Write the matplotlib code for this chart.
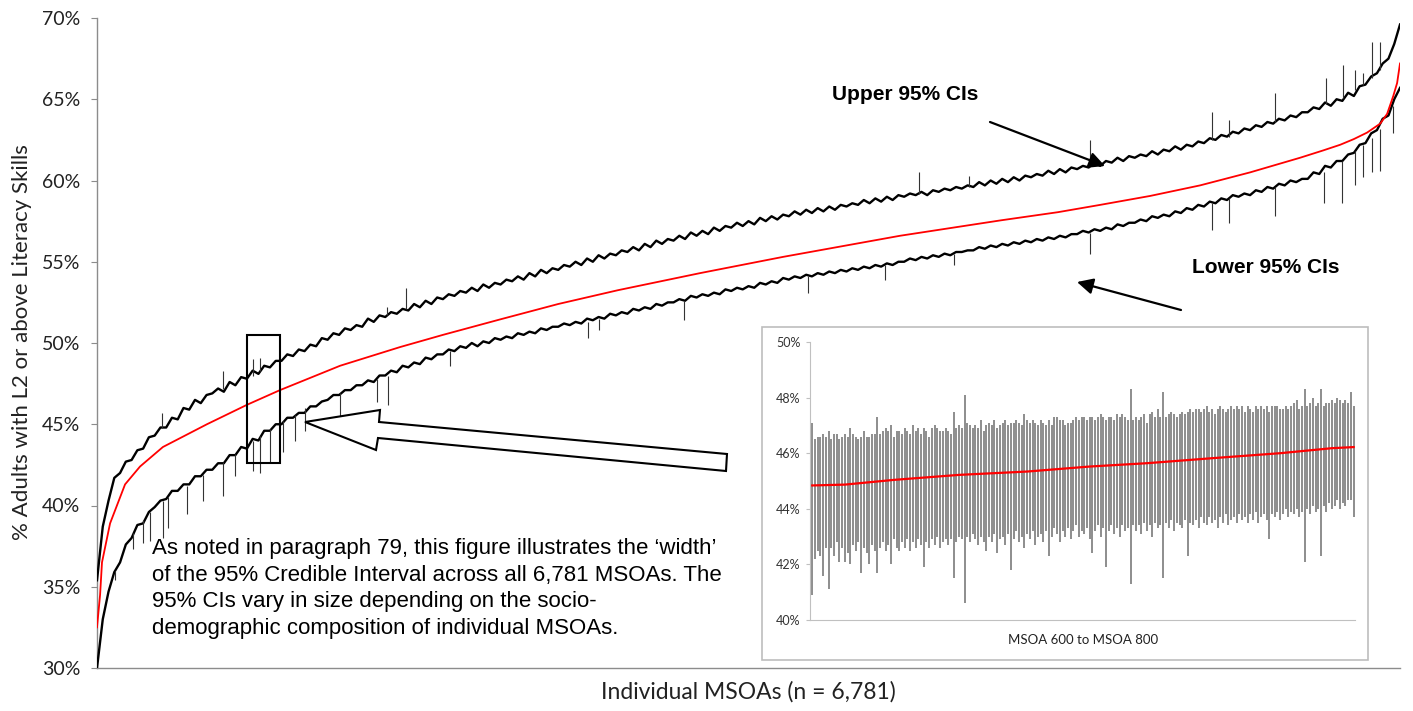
import numpy as np
import matplotlib
matplotlib.use("Agg")
import matplotlib.pyplot as plt
from matplotlib.patches import Rectangle, Polygon, FancyArrowPatch

# ------------------------------------------------------------
# Data
# ------------------------------------------------------------
# sampled MSOAs (rank order) for the CI lines, every 30th MSOA
ci_idx = np.arange(0, 6781, 30)

upper_ci = [
    35.4, 38.7, 40.3, 41.7, 42.0, 42.7, 42.8, 43.4, 43.5, 44.2,
    44.3, 44.8, 44.8, 45.4, 45.3, 46.0, 45.9, 46.5, 46.3, 46.8,
    46.9, 47.2, 47.0, 47.6, 47.4, 47.9, 47.8, 48.3, 48.1, 48.6,
    48.5, 48.9, 48.9, 49.3, 49.2, 49.6, 49.5, 49.9, 49.8, 50.3,
    50.2, 50.6, 50.5, 50.9, 50.8, 51.1, 51.0, 51.5, 51.3, 51.7,
    51.6, 51.9, 51.8, 52.1, 52.0, 52.4, 52.2, 52.6, 52.4, 52.8,
    52.7, 53.0, 52.9, 53.2, 53.1, 53.4, 53.2, 53.6, 53.4, 53.7,
    53.6, 53.9, 53.8, 54.1, 53.9, 54.3, 54.1, 54.5, 54.3, 54.6,
    54.5, 54.8, 54.7, 55.0, 54.8, 55.2, 55.0, 55.4, 55.2, 55.5,
    55.4, 55.7, 55.6, 55.9, 55.7, 56.1, 55.9, 56.3, 56.1, 56.4,
    56.3, 56.6, 56.4, 56.8, 56.6, 56.9, 56.7, 57.1, 56.9, 57.2,
    57.1, 57.4, 57.2, 57.5, 57.3, 57.7, 57.5, 57.8, 57.6, 57.9,
    57.8, 58.1, 57.9, 58.2, 58.0, 58.3, 58.1, 58.4, 58.2, 58.5,
    58.4, 58.6, 58.5, 58.8, 58.6, 58.9, 58.7, 59.0, 58.8, 59.1,
    59.0, 59.2, 59.1, 59.3, 59.1, 59.4, 59.3, 59.5, 59.4, 59.6,
    59.5, 59.7, 59.6, 59.9, 59.7, 60.0, 59.8, 60.1, 59.9, 60.2,
    60.0, 60.3, 60.2, 60.4, 60.3, 60.6, 60.4, 60.7, 60.5, 60.8,
    60.7, 60.9, 60.8, 61.1, 60.9, 61.2, 61.1, 61.4, 61.2, 61.5,
    61.4, 61.6, 61.5, 61.8, 61.6, 61.9, 61.8, 62.1, 61.9, 62.2,
    62.1, 62.4, 62.3, 62.6, 62.5, 62.8, 62.7, 63.0, 62.9, 63.2,
    63.1, 63.4, 63.3, 63.6, 63.5, 63.8, 63.7, 64.0, 63.9, 64.2,
    64.2, 64.5, 64.4, 64.8, 64.6, 65.0, 64.9, 65.4, 65.2, 65.8,
    65.9, 66.4, 66.6, 67.2, 67.5, 68.4, 69.6,
]

lower_ci = [
    30.0, 33.0, 34.7, 35.9, 36.5, 37.6, 38.0, 38.8, 38.9, 39.6,
    39.9, 40.3, 40.4, 40.9, 40.9, 41.3, 41.3, 41.8, 41.8, 42.2,
    42.2, 42.6, 42.6, 43.1, 43.1, 43.6, 43.5, 44.1, 44.0, 44.6,
    44.6, 45.0, 45.0, 45.4, 45.4, 45.7, 45.7, 46.1, 46.1, 46.4,
    46.5, 46.8, 46.8, 47.1, 47.1, 47.4, 47.4, 47.7, 47.6, 48.0,
    48.0, 48.3, 48.2, 48.6, 48.5, 48.8, 48.7, 49.1, 49.0, 49.3,
    49.3, 49.6, 49.5, 49.8, 49.7, 50.0, 49.8, 50.1, 50.0, 50.3,
    50.2, 50.4, 50.3, 50.6, 50.5, 50.7, 50.6, 50.9, 50.8, 51.0,
    51.0, 51.2, 51.1, 51.3, 51.2, 51.5, 51.4, 51.6, 51.5, 51.8,
    51.7, 51.9, 51.8, 52.1, 52.0, 52.2, 52.1, 52.4, 52.3, 52.5,
    52.5, 52.7, 52.6, 52.9, 52.8, 53.0, 52.9, 53.1, 53.0, 53.3,
    53.2, 53.4, 53.3, 53.5, 53.4, 53.7, 53.6, 53.8, 53.7, 54.0,
    53.9, 54.1, 54.0, 54.2, 54.1, 54.3, 54.2, 54.4, 54.3, 54.5,
    54.4, 54.6, 54.5, 54.7, 54.6, 54.8, 54.7, 54.9, 54.8, 55.0,
    55.0, 55.2, 55.1, 55.3, 55.2, 55.4, 55.3, 55.5, 55.4, 55.6,
    55.6, 55.7, 55.7, 55.9, 55.8, 56.0, 55.9, 56.1, 56.0, 56.2,
    56.1, 56.3, 56.2, 56.4, 56.3, 56.5, 56.4, 56.6, 56.5, 56.7,
    56.7, 56.9, 56.8, 57.0, 56.9, 57.1, 57.0, 57.3, 57.2, 57.4,
    57.4, 57.6, 57.5, 57.8, 57.7, 57.9, 57.8, 58.1, 58.0, 58.3,
    58.2, 58.5, 58.4, 58.7, 58.6, 58.9, 58.8, 59.1, 59.0, 59.2,
    59.1, 59.4, 59.3, 59.6, 59.5, 59.8, 59.7, 60.0, 59.9, 60.1,
    60.1, 60.5, 60.4, 60.9, 60.8, 61.2, 61.2, 61.6, 61.7, 62.2,
    62.3, 62.9, 63.1, 63.8, 64.0, 65.0, 65.7,
]

# point estimate (red line)
est_idx = [0, 16, 26, 68, 146, 224, 343, 572, 781, 952, 1265, 1577, 1800,
           2097, 2400, 2711, 3138, 3570, 4179, 4704, 5000, 5220, 5480, 5740,
           6000, 6260, 6380, 6469, 6540, 6609, 6677, 6713, 6745, 6765, 6780]
est_val = [32.5, 34.5, 36.5, 38.9, 41.3, 42.4, 43.6, 45.0, 46.2, 47.1, 48.6,
           49.75, 50.5, 51.45, 52.4, 53.25, 54.3, 55.3, 56.6, 57.55, 58.05,
           58.5, 59.05, 59.7, 60.5, 61.4, 61.85, 62.2, 62.55, 62.95, 63.5,
           64.1, 65.2, 66.0, 67.2]

# single MSOAs with unusually wide intervals (needles)
up_spike_idx = [337, 656, 812, 848, 1509, 1606, 4278, 4538, 5168, 5801, 5891,
                6127, 6396, 6483, 6547, 6587, 6634, 6677]
up_spike_from = [44.8, 47.2, 48.0, 48.3, 51.7, 52.1, 59.2, 59.6, 60.9, 62.5,
                 62.7, 63.6, 64.7, 65.1, 65.6, 65.9, 66.3, 66.8]
up_spike_to = [45.7, 48.3, 49.0, 49.1, 52.2, 53.4, 60.5, 60.3, 62.5, 64.2,
               63.7, 65.4, 66.3, 67.1, 66.8, 66.6, 68.5, 68.5]

lo_spike_idx = [94, 187, 239, 276, 343, 369, 468, 552, 656, 718, 812, 848, 900,
                968, 1030, 1082, 1265, 1457, 1514, 1837, 2555, 2612, 3052, 3700,
                4099, 4458, 5168, 5801, 5891, 6127, 6382, 6477, 6547, 6590,
                6634, 6677, 6745]
lo_spike_from = [36.0, 38.3, 39.1, 39.6, 40.3, 40.5, 41.2, 41.9, 42.7, 43.2,
                 44.0, 44.3, 44.7, 45.2, 45.6, 46.0, 46.9, 47.8, 48.0, 49.5,
                 51.3, 51.5, 52.6, 54.1, 54.8, 55.5, 56.8, 58.6, 58.9, 59.6,
                 60.5, 61.2, 61.8, 62.2, 62.6, 63.2, 64.6]
lo_spike_to = [35.4, 37.3, 37.7, 37.8, 38.0, 38.6, 39.5, 40.3, 40.6, 41.8,
               42.1, 42.0, 42.6, 43.3, 44.0, 44.6, 45.5, 46.4, 46.2, 48.6,
               50.3, 50.8, 51.4, 53.1, 53.9, 54.8, 55.5, 56.95, 57.4, 57.8,
               58.6, 58.6, 59.7, 60.2, 60.5, 60.6, 62.9]

# inset: MSOA 600 to MSOA 800
inset_bar_idx = np.arange(200)
inset_upper = [
    47.1, 46.5, 46.6, 46.6, 46.7, 46.6, 46.8, 46.5, 46.7, 46.7, 46.5, 46.6, 46.7, 46.6, 46.9, 46.7, 46.6, 46.5, 46.6, 46.8,
    46.6, 46.6, 46.7, 46.7, 47.3, 46.7, 46.8, 46.9, 46.8, 47.0, 46.6, 46.8, 46.8, 46.7, 46.9, 46.8, 46.7, 47.0, 46.8, 46.9,
    46.7, 46.9, 46.8, 46.6, 46.9, 47.0, 46.9, 46.8, 46.8, 46.9, 46.8, 46.7, 47.5, 46.9, 47.0, 46.9, 48.1, 47.1, 47.0, 46.9,
    47.0, 46.9, 47.2, 46.8, 47.0, 47.1, 47.0, 47.2, 46.9, 47.0, 47.1, 47.2, 47.0, 47.1, 47.1, 47.2, 47.1, 47.0, 47.4, 47.2,
    47.1, 47.2, 47.1, 47.0, 47.2, 47.1, 47.0, 47.2, 47.0, 47.3, 47.3, 47.2, 47.2, 47.0, 47.1, 47.1, 47.2, 47.3, 47.2, 47.3,
    47.3, 47.2, 47.3, 47.3, 47.2, 47.3, 47.4, 47.3, 47.2, 47.3, 47.3, 47.2, 47.4, 47.3, 47.4, 47.3, 47.2, 48.3, 47.2, 47.3,
    47.2, 47.3, 47.4, 47.1, 47.4, 47.5, 47.3, 47.6, 47.3, 48.2, 47.3, 47.4, 47.5, 47.4, 47.3, 47.4, 47.5, 47.4, 47.5, 47.6,
    47.5, 47.6, 47.6, 47.5, 47.6, 47.7, 47.5, 47.6, 47.4, 47.6, 47.7, 47.6, 47.5, 47.6, 47.7, 47.6, 47.7, 47.6, 47.7, 47.5,
    47.7, 47.6, 47.5, 47.7, 47.6, 47.7, 47.6, 47.7, 47.5, 47.7, 47.7, 47.7, 47.6, 47.6, 47.7, 47.6, 47.7, 47.8, 47.9, 47.6,
    47.7, 48.3, 47.7, 47.8, 48.0, 47.7, 47.8, 48.3, 47.7, 47.8, 47.8, 47.9, 47.8, 48.0, 47.9, 47.8, 47.9, 47.8, 48.2, 47.7,
]
inset_lower = [
    40.9, 42.2, 42.5, 42.3, 41.6, 42.6, 41.1, 42.6, 42.3, 42.8, 42.1, 42.6, 42.1, 42.4, 42.0, 42.7, 42.5, 42.8, 41.7, 42.6,
    42.4, 42.0, 42.7, 42.5, 41.7, 42.6, 42.8, 42.5, 42.7, 42.0, 42.9, 42.6, 42.5, 42.8, 42.6, 42.9, 42.5, 42.8, 42.6, 42.9,
    42.7, 41.9, 42.8, 42.6, 42.9, 42.7, 43.0, 42.6, 42.8, 42.9, 42.7, 42.9, 41.5, 42.8, 43.0, 42.9, 40.6, 43.0, 42.8, 43.1,
    42.9, 42.7, 43.0, 42.8, 42.5, 43.0, 42.8, 43.1, 42.4, 42.9, 43.0, 42.7, 43.1, 41.8, 42.9, 43.2, 42.8, 43.0, 42.6, 43.1,
    42.9, 43.2, 42.7, 43.0, 43.1, 42.8, 43.2, 42.3, 43.0, 43.3, 43.1, 42.8, 43.2, 43.0, 43.3, 42.9, 43.2, 43.4, 43.0, 43.2,
    43.1, 43.3, 42.9, 42.4, 43.2, 43.4, 43.0, 43.3, 41.9, 43.2, 43.4, 43.1, 43.3, 43.0, 43.4, 43.2, 43.3, 41.3, 43.4, 43.2,
    43.4, 43.1, 43.5, 43.2, 43.4, 43.0, 43.5, 43.3, 43.4, 41.5, 43.5, 43.3, 43.6, 43.2, 43.5, 43.4, 43.3, 43.6, 42.3, 43.5,
    43.4, 43.6, 43.3, 43.7, 43.5, 43.4, 43.7, 43.5, 43.6, 43.3, 43.7, 43.5, 43.8, 43.4, 43.6, 43.7, 43.5, 43.8, 43.6, 43.7,
    43.5, 43.8, 43.6, 43.9, 43.5, 43.7, 43.8, 43.6, 42.9, 43.8, 43.7, 43.9, 43.6, 43.8, 44.0, 43.7, 43.9, 43.8, 44.0, 43.7,
    43.9, 42.1, 44.0, 43.8, 44.1, 43.9, 44.0, 42.3, 44.1, 43.9, 44.2, 44.0, 44.1, 44.3, 44.0, 44.2, 44.1, 44.3, 44.3, 43.7,
]
inset_est_idx = [0, 12, 30, 54, 79, 102, 123, 147, 172, 191, 199]
inset_est_val = [44.84, 44.87, 45.04, 45.22, 45.34, 45.52, 45.64, 45.82,
                 46.00, 46.18, 46.22]

y_ticks = [30, 35, 40, 45, 50, 55, 60, 65, 70]
inset_y_ticks = [40, 42, 44, 46, 48, 50]

W, H = 1413, 711


def fx(px):
    return px / W


def fy(py):
    return 1 - py / H


def main():
    fig = plt.figure(figsize=(W / 100, H / 100), dpi=100)
    calibri_like = ["Lato", "DejaVu Sans"]
    arial_like = ["Liberation Sans", "DejaVu Sans"]

    # --------------------------------------------------------
    # Main chart
    # --------------------------------------------------------
    ax = fig.add_axes([fx(97), fy(668), fx(1400) - fx(97), fy(18) - fy(668)])
    ax.plot(ci_idx, upper_ci, color="black", lw=1.7, zorder=3)
    ax.plot(ci_idx, lower_ci, color="black", lw=1.7, zorder=3)
    ax.vlines(up_spike_idx, up_spike_from, up_spike_to, color="#333333", lw=0.8, zorder=3)
    ax.vlines(lo_spike_idx, lo_spike_from, lo_spike_to, color="#333333", lw=0.8, zorder=3)
    ax.plot(est_idx, est_val, color="#ff0000", lw=1.3, zorder=4)

    ax.set_xlim(0, 6780)
    ax.set_ylim(30, 70)
    ax.set_yticks(y_ticks)
    ax.set_yticklabels([f"{v}%" for v in y_ticks], family=calibri_like, fontsize=14)
    ax.set_xticks([])
    for side in ["top", "right"]:
        ax.spines[side].set_visible(False)
    for side in ["left", "bottom"]:
        ax.spines[side].set_color("#8c8c8c")
        ax.spines[side].set_linewidth(1.0)
    ax.tick_params(axis="y", length=4, color="#8c8c8c", pad=8, labelcolor="#222222")

    # highlighted block of MSOAs
    ax.add_patch(Rectangle((781, 42.6), 952 - 781, 50.5 - 42.6, fill=False,
                           ec="black", lw=1.5, zorder=5))

    fig.text(fx(22), fy(342), "% Adults with L2 or above Literacy Skills", rotation=90,
             ha="center", va="center", family=calibri_like, fontsize=16, color="#222222")
    fig.text(fx(748), fy(692), "Individual MSOAs (n = 6,781)", ha="center", va="center",
             family=calibri_like, fontsize=16.5, color="#222222")

    # labels with arrows
    fig.text(fx(905), fy(95), "Upper 95% CIs", ha="center", va="center",
             family=arial_like, fontsize=15, fontweight="bold")
    fig.text(fx(1266), fy(267), "Lower 95% CIs", ha="center", va="center",
             family=arial_like, fontsize=15, fontweight="bold")
    arrow_style = dict(arrowstyle="-|>", color="black", lw=1.6, mutation_scale=24,
                       shrinkA=0, shrinkB=0)
    fig.add_artist(FancyArrowPatch((fx(990), fy(122)), (fx(1105), fy(166)),
                                   transform=fig.transFigure, **arrow_style))
    fig.add_artist(FancyArrowPatch((fx(1181), fy(310)), (fx(1077), fy(282)),
                                   transform=fig.transFigure, **arrow_style))

    # hollow block arrow pointing at the highlighted block
    hollow = [(305, 422), (380, 410), (379, 422), (727, 454), (726, 471),
              (378, 438), (376, 450)]
    fig.add_artist(Polygon([(fx(x), fy(y)) for x, y in hollow], closed=True,
                           transform=fig.transFigure, fc="white", ec="black", lw=1.5,
                           zorder=5))

    fig.text(fx(152), fy(538),
             "As noted in paragraph 79, this figure illustrates the \u2018width\u2019\n"
             "of the 95% Credible Interval across all 6,781 MSOAs. The\n"
             "95% CIs vary in size depending on the socio-\n"
             "demographic composition of individual MSOAs.",
             ha="left", va="top", family=arial_like, fontsize=16, linespacing=1.35)

    # --------------------------------------------------------
    # Inset: MSOA 600 to MSOA 800
    # --------------------------------------------------------
    frame = Rectangle((fx(762), fy(660)), fx(1368) - fx(762), fy(327) - fy(660),
                      transform=fig.transFigure, fc="white", ec="#bdbdbd", lw=1.2, zorder=2)
    fig.add_artist(frame)

    ax_in = fig.add_axes([fx(810), fy(620), fx(1355) - fx(810), fy(342) - fy(620)])
    ax_in.set_zorder(3)
    ax_in.patch.set_alpha(0)
    ax_in.vlines(inset_bar_idx, inset_lower, inset_upper, color="#7a7a7a", lw=1.2)
    ax_in.plot(inset_est_idx, inset_est_val, color="#ff0000", lw=1.6)
    ax_in.set_xlim(-0.8, 199.5)
    ax_in.set_ylim(40, 50)
    ax_in.set_yticks(inset_y_ticks)
    ax_in.set_yticklabels([f"{v}%" for v in inset_y_ticks], family=calibri_like,
                          fontsize=9, color="#333333")
    ax_in.set_xticks([])
    for side in ["top", "right"]:
        ax_in.spines[side].set_visible(False)
    for side in ["left", "bottom"]:
        ax_in.spines[side].set_color("#c0c0c0")
    ax_in.tick_params(axis="y", length=3, color="#c0c0c0", pad=4)
    fig.text(fx(1083), fy(640), "MSOA 600 to MSOA 800", ha="center", va="center",
             family=calibri_like, fontsize=9.5, color="#222222", zorder=4)

    fig.savefig("out.png", dpi=100)
    plt.close(fig)


if __name__ == "__main__":
    main()
